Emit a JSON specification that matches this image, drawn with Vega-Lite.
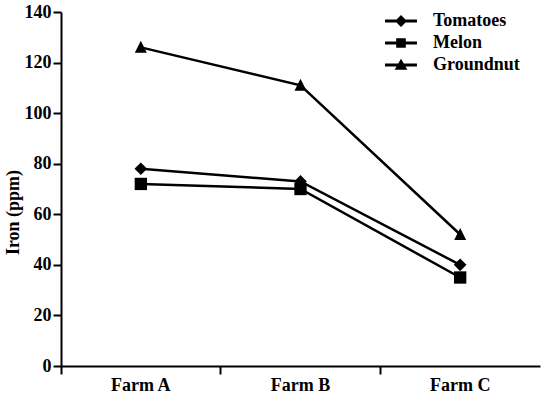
{
  "$schema": "https://vega.github.io/schema/vega-lite/v6.json",
  "width": 479,
  "height": 354,
  "autosize": {"type": "none"},
  "padding": {"left": 61, "top": 12, "right": 3, "bottom": 34},
  "background": "white",
  "config": {
    "view": {"stroke": null},
    "font": "Liberation Serif, Times New Roman, Times, serif",
    "axis": {
      "domainColor": "black", "domainWidth": 2,
      "tickColor": "black", "tickWidth": 2, "tickSize": 8,
      "labelColor": "black", "labelFont": "Liberation Serif, Times New Roman, Times, serif", "labelFontSize": 18, "labelFontWeight": "bold",
      "titleColor": "black", "titleFont": "Liberation Serif, Times New Roman, Times, serif", "titleFontSize": 18, "titleFontWeight": "bold",
      "grid": false
    }
  },
  "data": {
    "values": [
      {"farm": "Farm A", "crop": "Tomatoes", "iron": 78},
      {"farm": "Farm B", "crop": "Tomatoes", "iron": 73},
      {"farm": "Farm C", "crop": "Tomatoes", "iron": 40},
      {"farm": "Farm A", "crop": "Melon", "iron": 72},
      {"farm": "Farm B", "crop": "Melon", "iron": 70},
      {"farm": "Farm C", "crop": "Melon", "iron": 35},
      {"farm": "Farm A", "crop": "Groundnut", "iron": 126},
      {"farm": "Farm B", "crop": "Groundnut", "iron": 111},
      {"farm": "Farm C", "crop": "Groundnut", "iron": 52}
    ]
  },
  "encoding": {
    "x": {
      "field": "farm", "type": "nominal",
      "scale": {"type": "band", "paddingInner": 0, "paddingOuter": 0},
      "axis": {"title": null, "labelAngle": 0, "bandPosition": 0, "labelPadding": 2}
    },
    "y": {
      "field": "iron", "type": "quantitative",
      "scale": {"domain": [0, 140], "nice": false, "zero": true},
      "axis": {"title": "Iron (ppm)", "values": [0, 20, 40, 60, 80, 100, 120, 140], "labelPadding": 2, "titlePadding": 2, "titleY": 200}
    }
  },
  "layer": [
    {
      "mark": {"type": "line", "color": "black", "strokeWidth": 2.5},
      "encoding": {"detail": {"field": "crop"}}
    },
    {
      "mark": {"type": "point", "filled": true, "color": "black", "size": 0, "opacity": 1},
      "encoding": {
        "shape": {
          "field": "crop", "type": "nominal",
          "scale": {
            "domain": ["Tomatoes", "Melon", "Groundnut"],
            "range": [
              "M-1.33,-0.12L1.33,-0.12L1.33,0.12L-1.33,0.12Z M-0.5,0L0,-0.5L0.5,0L0,0.5Z",
              "M-1.33,-0.12L1.33,-0.12L1.33,0.12L-1.33,0.12Z M-0.4,-0.4L0.4,-0.4L0.4,0.4L-0.4,0.4Z",
              "M-1.33,-0.12L1.33,-0.12L1.33,0.12L-1.33,0.12Z M-0.53,0.4L0,-0.53L0.53,0.4Z"
            ]
          },
          "legend": {
            "title": null, "orient": "none", "legendX": 328, "legendY": -3,
            "symbolSize": 576, "symbolFillColor": "black", "symbolStrokeColor": "black",
            "symbolStrokeWidth": 0, "symbolOpacity": 1,
            "labelFont": "Liberation Serif, Times New Roman, Times, serif", "labelFontSize": 18, "labelFontWeight": "bold", "labelColor": "black",
            "labelOffset": 20, "rowPadding": 1, "symbolOffset": 0
          }
        }
      }
    },
    {
      "mark": {"type": "point", "filled": true, "color": "black", "opacity": 1},
      "encoding": {
        "shape": {
          "field": "crop", "type": "nominal",
          "scale": {"domain": ["Tomatoes", "Melon", "Groundnut"], "range": ["diamond", "square", "M-1,0.9L0,-1.1L1,0.9Z"]},
          "legend": null
        },
        "size": {
          "field": "crop", "type": "nominal",
          "scale": {"domain": ["Tomatoes", "Melon", "Groundnut"], "range": [160, 144, 180]},
          "legend": null
        }
      }
    }
  ],
  "resolve": {"scale": {"shape": "independent", "size": "independent"}}
}
